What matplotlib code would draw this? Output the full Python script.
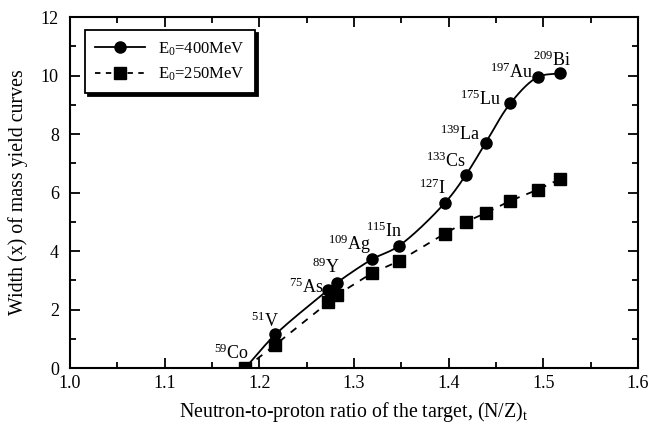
import numpy as np
import matplotlib
matplotlib.use('Agg')
import matplotlib.pyplot as plt
from matplotlib.lines import Line2D
from matplotlib.ticker import MultipleLocator

plt.rcParams['font.family'] = ['Liberation Serif', 'DejaVu Serif']
plt.rcParams['mathtext.fontset'] = 'custom'
plt.rcParams['mathtext.rm'] = 'Liberation Serif'
plt.rcParams['mathtext.it'] = 'Liberation Serif:italic'

# N/Z of targets
nz = [1.185, 1.217, 1.273, 1.282, 1.319, 1.347, 1.396, 1.418, 1.439, 1.465, 1.494, 1.518]
targets = ['$^{59}$Co', '$^{51}$V', '$^{75}$As', '$^{89}$Y', '$^{109}$Ag', '$^{115}$In',
           '$^{127}$I', '$^{133}$Cs', '$^{139}$La', '$^{175}$Lu', '$^{197}$Au', '$^{209}$Bi']
w400 = [0.0, 1.15, 2.68, 2.92, 3.72, 4.17, 5.65, 6.60, 7.70, 9.05, 9.95, 10.08]
w250 = [0.0, 0.80, 2.25, 2.50, 3.25, 3.65, 4.60, 5.00, 5.30, 5.72, 6.10, 6.47]
# label offsets (pixels) from the 400 MeV points
lab_dx = [-14, -10, -22, -11, -22, -14, -13, -20, -26, -30, -26, -8]
lab_dy = [15, 13, 2, 15, 15, 15, 15, 14, 9, 4, 5, 13]


def smooth(xs, ys, n=30):
    # centripetal catmull-rom through the points, in normalized coords
    sx, sy = 1 / 0.6 * 1.6, 1 / 12.0
    P = np.column_stack([np.array(xs) * sx, np.array(ys) * sy])
    P = np.vstack([2 * P[0] - P[1], P, 2 * P[-1] - P[-2]])
    out = []
    for i in range(1, len(P) - 2):
        p0, p1, p2, p3 = P[i - 1], P[i], P[i + 1], P[i + 2]
        t0 = 0
        t1 = t0 + np.linalg.norm(p1 - p0) ** 0.5
        t2 = t1 + np.linalg.norm(p2 - p1) ** 0.5
        t3 = t2 + np.linalg.norm(p3 - p2) ** 0.5
        t = np.linspace(t1, t2, n)[:, None]
        a1 = (t1 - t) / (t1 - t0) * p0 + (t - t0) / (t1 - t0) * p1
        a2 = (t2 - t) / (t2 - t1) * p1 + (t - t1) / (t2 - t1) * p2
        a3 = (t3 - t) / (t3 - t2) * p2 + (t - t2) / (t3 - t2) * p3
        b1 = (t2 - t) / (t2 - t0) * a1 + (t - t0) / (t2 - t0) * a2
        b2 = (t3 - t) / (t3 - t1) * a2 + (t - t1) / (t3 - t1) * a3
        c = (t2 - t) / (t2 - t1) * b1 + (t - t1) / (t2 - t1) * b2
        out.append(c)
    out = np.vstack(out)
    return out[:, 0] / sx, out[:, 1] / sy


fig = plt.figure(figsize=(6.5, 4.28), dpi=100)
ax = fig.add_axes([0.1077, 0.140, 0.874, 0.820])

cx, cy = smooth(nz, w400)
ax.plot(cx, cy, '-', color='black', lw=1.3)
ax.plot(nz, w400, 'o', color='black', ms=8)
ax.plot(nz, w250, '--', color='black', lw=1.3, dashes=(4, 4))
ax.plot(nz, w250, 's', color='black', ms=8)

for i in range(len(nz)):
    ax.annotate(targets[i], (nz[i], w400[i]), xytext=(lab_dx[i], lab_dy[i]),
                textcoords='offset pixels', ha='center', va='center', fontsize=13)

ax.set_xlim(1.0, 1.6)
ax.set_ylim(0, 12)
ax.xaxis.set_major_locator(MultipleLocator(0.1))
ax.xaxis.set_minor_locator(MultipleLocator(0.05))
ax.yaxis.set_major_locator(MultipleLocator(2))
ax.yaxis.set_minor_locator(MultipleLocator(1))
ax.tick_params(which='both', direction='in', top=True, right=True, labelsize=13, width=1.3)
ax.tick_params(which='major', length=7)
ax.tick_params(which='minor', length=4)
ax.tick_params(axis='y', pad=8)
ax.tick_params(axis='x', pad=5)
for s in ax.spines.values():
    s.set_linewidth(1.5)

ax.set_xlabel('Neutron-to-proton ratio of the target, (N/Z)$_{\\rm t}$', fontsize=14.3, labelpad=6)
ax.set_ylabel('Width (x) of mass yield curves', fontsize=14.3, labelpad=9)

h1 = Line2D([], [], color='black', lw=1.3, marker='o', ms=8)
h2 = Line2D([], [], color='black', lw=1.3, ls='--', dashes=(3, 3), marker='s', ms=8)
leg = ax.legend([h1, h2], ['E$_0$=400MeV', 'E$_0$=250MeV'], loc='upper left',
                bbox_to_anchor=(0.026, 0.963), borderaxespad=0, fancybox=False,
                shadow={'color': 'black', 'alpha': 1}, edgecolor='black', fontsize=12,
                handlelength=3.0, borderpad=0.6, framealpha=1)
leg.get_frame().set_linewidth(1.3)

fig.savefig('out.png', dpi=100)
